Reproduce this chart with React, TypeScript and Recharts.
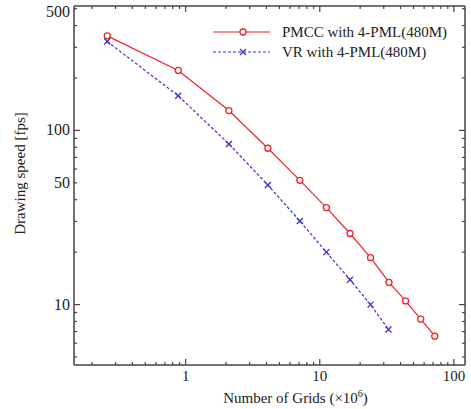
import { Legend, Line, LineChart, XAxis, YAxis } from 'recharts';

// grid counts (x10^6) and drawing speed (fps)
const gridsPmcc = [0.26, 0.88, 2.1, 4.1, 7.1, 11.2, 16.8, 23.9, 32.8, 43.6, 56.6, 72.0];
const fpsPmcc = [349, 221, 130, 79, 51.7, 36, 25.6, 18.6, 13.4, 10.5, 8.26, 6.59];
const gridsVr = [0.26, 0.88, 2.1, 4.1, 7.1, 11.2, 16.8, 23.9, 32.5];
const fpsVr = [324, 158, 83.6, 48.6, 30.2, 20, 13.9, 10.0, 7.2];

const seriesNames = ['PMCC with 4-PML(480M)', 'VR with 4-PML(480M)'];

const xTicks = [0.2, 0.3, 0.4, 0.5, 0.6, 0.7, 0.8, 0.9, 1, 2, 3, 4, 5, 6, 7, 8, 9, 10, 20, 30, 40, 50, 60, 70, 80, 90, 100];
const xLabels = [1, 10, 100];
const yTicks = [5, 6, 7, 8, 9, 10, 20, 30, 40, 50, 60, 70, 80, 90, 100, 200, 300, 400, 500];
const yLabels = [10, 50, 100, 500];

const RED = '#e8262b';
const BLUE = '#3535c8';
const AXIS = '#444';
const FONT = '"Liberation Serif", "DejaVu Serif", serif';

const pmccData = gridsPmcc.map((x, i) => ({ x, fps: fpsPmcc[i] }));
const vrData = gridsVr.map((x, i) => ({ x, fps: fpsVr[i] }));

const isDecade = (v: number) => Math.abs(Math.log10(v) - Math.round(Math.log10(v))) < 1e-6;
const tickLen = (v: number) => (isDecade(v) ? 6 : 3);

// ticks point into the plot; tickSize/tickMargin are 0 so x/y sit on the axis line
const BottomTick = ({ x, y, payload }: any) => (
  <g>
    <line x1={x} x2={x} y1={y} y2={y - tickLen(payload.value)} stroke={AXIS} strokeWidth={1.2} />
    {xLabels.includes(payload.value) && (
      <text x={x} y={y + 16} textAnchor="middle" fontSize={15} fontFamily={FONT} fill="#222">
        {payload.value}
      </text>
    )}
  </g>
);

const TopTick = ({ x, y, payload }: any) => (
  <line x1={x} x2={x} y1={y} y2={y + tickLen(payload.value)} stroke={AXIS} strokeWidth={1.2} />
);

const LeftTick = ({ x, y, payload }: any) => (
  <g>
    <line x1={x} x2={x + tickLen(payload.value)} y1={y} y2={y} stroke={AXIS} strokeWidth={1.2} />
    {yLabels.includes(payload.value) && (
      <text x={x - 4} y={payload.value === 500 ? y + 8 : y + 5} textAnchor="end" fontSize={16} fontFamily={FONT} fill="#222">
        {payload.value}
      </text>
    )}
  </g>
);

const RightTick = ({ x, y, payload }: any) => (
  <line x1={x} x2={x - tickLen(payload.value)} y1={y} y2={y} stroke={AXIS} strokeWidth={1.2} />
);

const CrossDot = ({ cx, cy }: any) => {
  if (cx == null || cy == null) return null;
  const r = 3;
  return (
    <g stroke={BLUE} strokeWidth={1.3}>
      <line x1={cx - r} y1={cy - r} x2={cx + r} y2={cy + r} />
      <line x1={cx - r} y1={cy + r} x2={cx + r} y2={cy - r} />
    </g>
  );
};

const YLabel = ({ viewBox }: any) => {
  const cx = viewBox.x + 20;
  const cy = viewBox.y + viewBox.height / 2 - 12;
  return (
    <text x={cx} y={cy} transform={`rotate(-90 ${cx} ${cy})`} textAnchor="middle" dominantBaseline="central"
      fontSize={15} fontFamily={FONT} fill="#222">
      Drawing speed [fps]
    </text>
  );
};

const XLabel = ({ viewBox }: any) => {
  const cx = viewBox.x + viewBox.width / 2 + 26;
  const y = viewBox.y + 38;
  return (
    <text x={cx} y={y} textAnchor="middle" fontSize={15} fontFamily={FONT} fill="#222">
      Number of Grids (×10<tspan dy={-6} fontSize={10}>6</tspan><tspan dy={6}>)</tspan>
    </text>
  );
};

const LegendBox = () => (
  <svg width={265} height={42} style={{ display: 'block', fontFamily: FONT }}>
    <line x1={8} x2={65} y1={10} y2={10} stroke={RED} strokeWidth={1.2} />
    <circle cx={38} cy={10} r={3} fill="#fff" stroke={RED} strokeWidth={1.3} />
    <text x={77} y={15} fontSize={15} fill="#222">{seriesNames[0]}</text>
    <line x1={8} x2={65} y1={30} y2={30} stroke={BLUE} strokeWidth={1.2} strokeDasharray="3 2" />
    <CrossDot cx={38} cy={30} />
    <text x={77} y={35} fontSize={15} fill="#222">{seriesNames[1]}</text>
  </svg>
);

export default function App() {
  return (
    <div style={{ position: 'absolute', left: 0, top: 0, background: '#fff' }}>
      <LineChart width={471} height={409} margin={{ top: 5, right: 5, left: 0, bottom: 0 }}>
        <XAxis
          dataKey="x"
          type="number"
          scale="log"
          domain={[0.147, 121]}
          allowDataOverflow
          ticks={xTicks}
          interval={0}
          height={44}
          tickSize={0}
          tickMargin={0}
          tickLine={false}
          tick={BottomTick}
          axisLine={{ stroke: AXIS, strokeWidth: 1.5 }}
          label={<XLabel />}
        />
        <XAxis
          xAxisId="top"
          dataKey="x"
          orientation="top"
          type="number"
          scale="log"
          domain={[0.147, 121]}
          allowDataOverflow
          ticks={xTicks}
          interval={0}
          height={1}
          tickSize={0}
          tickMargin={0}
          tickLine={false}
          tick={TopTick}
          axisLine={{ stroke: AXIS, strokeWidth: 1.5 }}
        />
        <YAxis
          type="number"
          scale="log"
          domain={[4.5, 518]}
          allowDataOverflow
          ticks={yTicks}
          interval={0}
          width={74}
          tickSize={0}
          tickMargin={0}
          tickLine={false}
          tick={LeftTick}
          axisLine={{ stroke: AXIS, strokeWidth: 1.5 }}
          label={<YLabel />}
        />
        <YAxis
          yAxisId="right"
          orientation="right"
          type="number"
          scale="log"
          domain={[4.5, 518]}
          allowDataOverflow
          ticks={yTicks}
          interval={0}
          width={1}
          tickSize={0}
          tickMargin={0}
          tickLine={false}
          tick={RightTick}
          axisLine={{ stroke: AXIS, strokeWidth: 1.5 }}
        />
        <Legend
          layout="vertical"
          align="center"
          verticalAlign="middle"
          content={LegendBox}
          wrapperStyle={{ top: 22, left: 205, width: 265 }}
        />
        {/* invisible series so the mirrored top/right axes get drawn */}
        <Line
          data={pmccData}
          dataKey="fps"
          xAxisId="top"
          yAxisId="right"
          stroke="none"
          dot={false}
          activeDot={false}
          legendType="none"
          isAnimationActive={false}
        />
        <Line
          data={pmccData}
          dataKey="fps"
          name={seriesNames[0]}
          stroke={RED}
          strokeWidth={1.2}
          dot={{ r: 3, fill: '#fff', stroke: RED, strokeWidth: 1.3 }}
          isAnimationActive={false}
        />
        <Line
          data={vrData}
          dataKey="fps"
          name={seriesNames[1]}
          stroke={BLUE}
          strokeWidth={1.2}
          strokeDasharray="3 2"
          dot={<CrossDot />}
          isAnimationActive={false}
        />
      </LineChart>
    </div>
  );
}
